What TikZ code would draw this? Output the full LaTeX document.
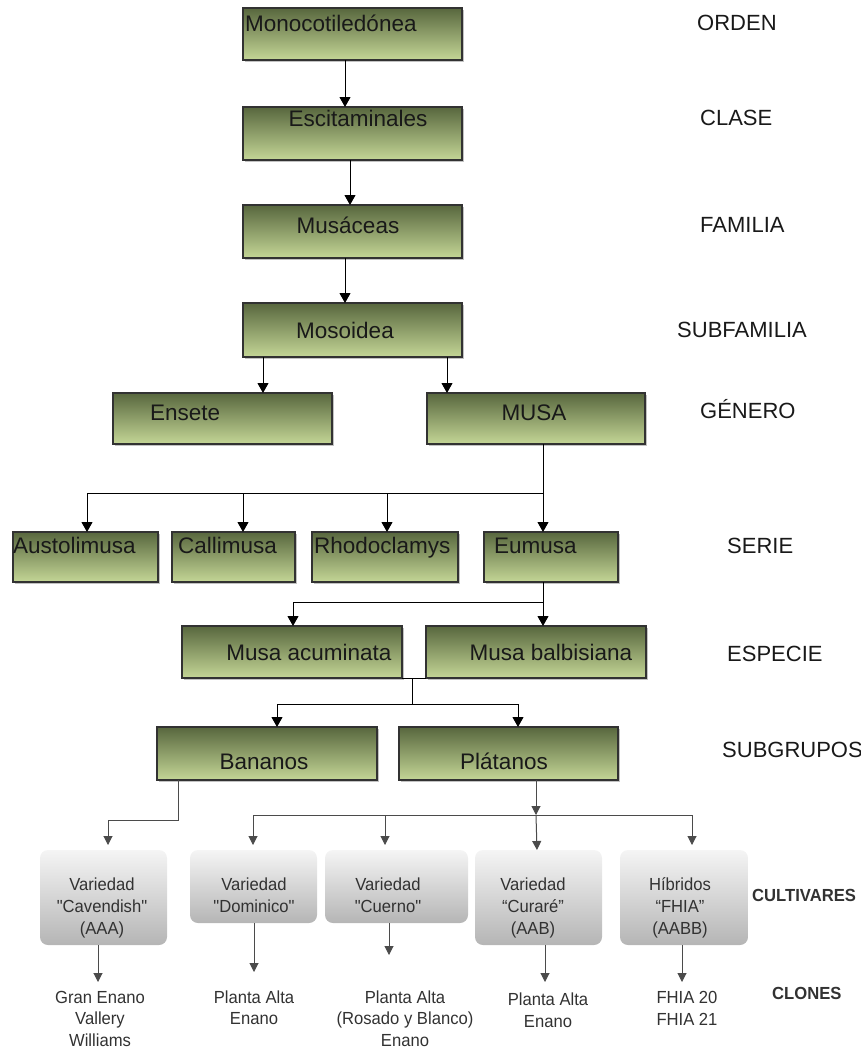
\documentclass[tikz,border=0pt]{standalone}
\usepackage{fontspec}
\setmainfont{Liberation Sans}
\newfontfamily\nf[FakeStretch=0.95]{Liberation Sans}
\usetikzlibrary{arrows.meta,shadows}
\definecolor{gtop}{RGB}{88,103,62}
\definecolor{gbot}{RGB}{196,214,150}
\definecolor{gborder}{RGB}{50,50,50}
\definecolor{txt}{RGB}{25,25,25}
\definecolor{gtxt}{RGB}{50,50,50}
\definecolor{garrc}{RGB}{75,75,75}
\begin{document}
\begin{tikzpicture}[x=1pt,y=-1pt,
  gbox/.style={draw=gborder,line width=1.2pt,top color=gtop,bottom color=gbot,
    anchor=north west,inner sep=0pt,outer sep=0pt,
    drop shadow={shadow xshift=2pt,shadow yshift=-2pt,fill=black!40,opacity=0.6}},
  graybox/.style={rounded corners=8pt,top color=gray!8,bottom color=gray!58,
    anchor=north west,inner sep=0pt,outer sep=0pt},
  bt/.style={text=txt,font=\fontsize{22.5}{27}\selectfont,inner sep=0pt,text height=16pt,text depth=0pt},
  lab/.style={text=txt,font=\fontsize{22}{26}\selectfont,inner sep=0pt,text height=15.8pt,text depth=0pt,anchor=west},
  gt/.style={text=gtxt,font=\nf\fontsize{17.5}{21}\selectfont,inner sep=0pt,text height=12.5pt,text depth=0pt},
  gl/.style={text=gtxt,font=\nf\bfseries\fontsize{17.5}{21}\selectfont,inner sep=0pt,text height=12.5pt,text depth=0pt,anchor=west},
  line/.style={draw=black,line width=1pt},
  arr/.style={line,-{Triangle[width=11pt,length=10pt]}},
  gline/.style={draw=garrc,line width=1pt},
  garr/.style={gline,-{Triangle[width=9pt,length=9pt]}}
]
\useasboundingbox (0,0) rectangle (861,1050);

% ---------- green boxes ----------
\node[gbox,minimum width=219pt,minimum height=52pt] (mono) at (243,8) {};
\node[gbox,minimum width=219pt,minimum height=53pt] (esc) at (243,107) {};
\node[gbox,minimum width=219pt,minimum height=53pt] (mus) at (243,205) {};
\node[gbox,minimum width=219pt,minimum height=54pt] (mos) at (243,303) {};
\node[gbox,minimum width=219pt,minimum height=51pt] (ens) at (113,393) {};
\node[gbox,minimum width=218pt,minimum height=51pt] (musa) at (427,393) {};
\node[gbox,minimum width=145pt,minimum height=50pt] (aus) at (13,532) {};
\node[gbox,minimum width=123pt,minimum height=50pt] (cal) at (172,532) {};
\node[gbox,minimum width=146pt,minimum height=50pt] (rho) at (312,532) {};
\node[gbox,minimum width=134pt,minimum height=50pt] (eum) at (484,532) {};
\node[gbox,minimum width=220pt,minimum height=52pt] (acu) at (182,626) {};
\node[gbox,minimum width=220pt,minimum height=52pt] (bal) at (426,626) {};
\node[gbox,minimum width=220pt,minimum height=53pt] (ban) at (157,727) {};
\node[gbox,minimum width=219pt,minimum height=53pt] (pla) at (399,727) {};

% ---------- green box texts ----------
\node[bt,anchor=west] (tmono) at (245,23) {Monocotiled\'onea};
\node[bt] (tesc) at (358,118) {Escitaminales};
\node[bt] (tmus) at (348,225) {Mus\'aceas};
\node[bt] (tmos) at (345,330) {Mosoidea};
\node[bt,anchor=west] (tens) at (150,412) {Ensete};
\node[bt] (tmusa) at (534,412) {MUSA};
\node[bt,anchor=west] (taus) at (13,545) {Austolimusa};
\node[bt,anchor=west] (tcal) at (178,545) {Callimusa};
\node[bt,anchor=west] (trho) at (314,545) {Rhodoclamys};
\node[bt,anchor=west] (teum) at (494,545) {Eumusa};
\node[bt] (tacu) at (309,652) {Musa acuminata};
\node[bt] (tbal) at (551,652) {Musa balbisiana};
\node[bt] (tban) at (264,761) {Bananos};
\node[bt] (tpla) at (504,761) {Pl\'atanos};

% ---------- rank labels ----------
\node[lab] (lorden) at (697,23) {ORDEN};
\node[lab] (lclase) at (700,118) {CLASE};
\node[lab] (lfam) at (700,225) {FAMILIA};
\node[lab] (lsubf) at (677,330) {SUBFAMILIA};
\node[lab] (lgen) at (700,411) {G\'ENERO};
\node[lab] (lserie) at (727,546) {SERIE};
\node[lab] (lesp) at (727,654) {ESPECIE};
\node[lab] (lsubg) at (722,750) {SUBGRUPOS};
\node[gl] (lcult) at (752,895) {CULTIVARES};
\node[gl] (lclon) at (772,993) {CLONES};

% ---------- connectors (upper part) ----------
\draw[arr] (345,0 |- mono.south) -- (345,0 |- esc.north);
\draw[arr] (350,0 |- esc.south) -- (350,0 |- mus.north);
\draw[arr] (345,0 |- mus.south) -- (345,0 |- mos.north);
\draw[arr] (263,0 |- mos.south) -- (263,0 |- ens.north);
\draw[arr] (447,0 |- mos.south) -- (447,0 |- musa.north);

\coordinate (j1) at (543,493);
\draw[line] (543,0 |- musa.south) -- (j1);
\draw[arr] (j1) -| (87,0 |- aus.north);
\draw[arr] (j1) -| (243,0 |- cal.north);
\draw[arr] (j1) -| (387,0 |- rho.north);
\draw[arr] (j1) -- (543,0 |- eum.north);

\coordinate (j2) at (543,602);
\draw[line] (543,0 |- eum.south) -- (j2);
\draw[arr] (j2) -| (293,0 |- acu.north);
\draw[arr] (j2) -- (543,0 |- bal.north);

\coordinate (j3) at (412,704);
\draw[line] (acu.south east) -- (bal.south west);
\draw[line] (412,0 |- acu.south) -- (j3);
\draw[arr] (j3) -| (277,0 |- ban.north);
\draw[arr] (j3) -| (518,0 |- pla.north);

% ---------- gray boxes ----------
\node[graybox,minimum width=127pt,minimum height=95pt] (cav) at (40,850) {};
\node[graybox,minimum width=127pt,minimum height=73pt] (dom) at (190,850) {};
\node[graybox,minimum width=143pt,minimum height=73pt] (cue) at (325,850) {};
\node[graybox,minimum width=127pt,minimum height=95pt] (cur) at (475,850) {};
\node[graybox,minimum width=128pt,minimum height=95pt] (fhia) at (620,850) {};

\node[gt] (cav1) at (102,884) {Variedad};
\node[gt] (cav2) at (102,906) {"Cavendish"};
\node[gt] (cav3) at (102,928) {(AAA)};
\node[gt] (dom1) at (254,884) {Variedad};
\node[gt] (dom2) at (254,906) {"Dominico"};
\node[gt] (cue1) at (388,884) {Variedad};
\node[gt] (cue2) at (388,906) {"Cuerno"};
\node[gt] (cur1) at (533,884) {Variedad};
\node[gt] (cur2) at (533,906) {“Curaré”};
\node[gt] (cur3) at (533,928) {(AAB)};
\node[gt] (fh1) at (680,884) {H\'ibridos};
\node[gt] (fh2) at (680,906) {“FHIA”};
\node[gt] (fh3) at (680,928) {(AABB)};

% ---------- clone texts ----------
\node[gt] (c11) at (100,997) {Gran Enano};
\node[gt] (c12) at (100,1018) {Vallery};
\node[gt] (c13) at (100,1040) {Williams};
\node[gt] (c21) at (254,997) {Planta Alta};
\node[gt] (c22) at (254,1018) {Enano};
\node[gt] (c31) at (405,997) {Planta Alta};
\node[gt] (c32) at (405,1018) {(Rosado y Blanco)};
\node[gt] (c33) at (405,1040) {Enano};
\node[gt] (c41) at (548,999) {Planta Alta};
\node[gt] (c42) at (548,1021) {Enano};
\node[gt] (c51) at (687,997) {FHIA 20};
\node[gt] (c52) at (687,1019) {FHIA 21};

% ---------- connectors (lower part) ----------
\coordinate (k1) at (178,820);
\coordinate (k2) at (108,820);
\draw[garr,shorten >=5pt] (178,0 |- ban.south) -- (k1) -- (k2) -- (108,0 |- cav.north);

\coordinate (j4) at (536,815);
\coordinate (hl) at (253,815);
\coordinate (hr) at (692,815);
\draw[garr] (536,0 |- pla.south) -- (j4);
\draw[gline] (hl) -- (hr);
\draw[garr,shorten >=5pt] (hl) -- (253,0 |- dom.north);
\draw[garr,shorten >=5pt] (385,815) -- (385,0 |- cue.north);
\draw[garr] (j4) -- (537,0 |- cur.north);
\draw[garr,shorten >=5pt] (hr) -- (692,0 |- fhia.north);

\coordinate (e1) at (98,982);
\coordinate (e2) at (254,972);
\coordinate (e3) at (389,955);
\coordinate (e4) at (545,982);
\coordinate (e5) at (682,982);
\draw[garr] (98,0 |- cav.south) -- (e1);
\draw[garr] (254,0 |- dom.south) -- (e2);
\draw[garr] (389,0 |- cue.south) -- (e3);
\draw[garr] (545,0 |- cur.south) -- (e4);
\draw[garr] (682,0 |- fhia.south) -- (e5);
\end{tikzpicture}
\end{document}
